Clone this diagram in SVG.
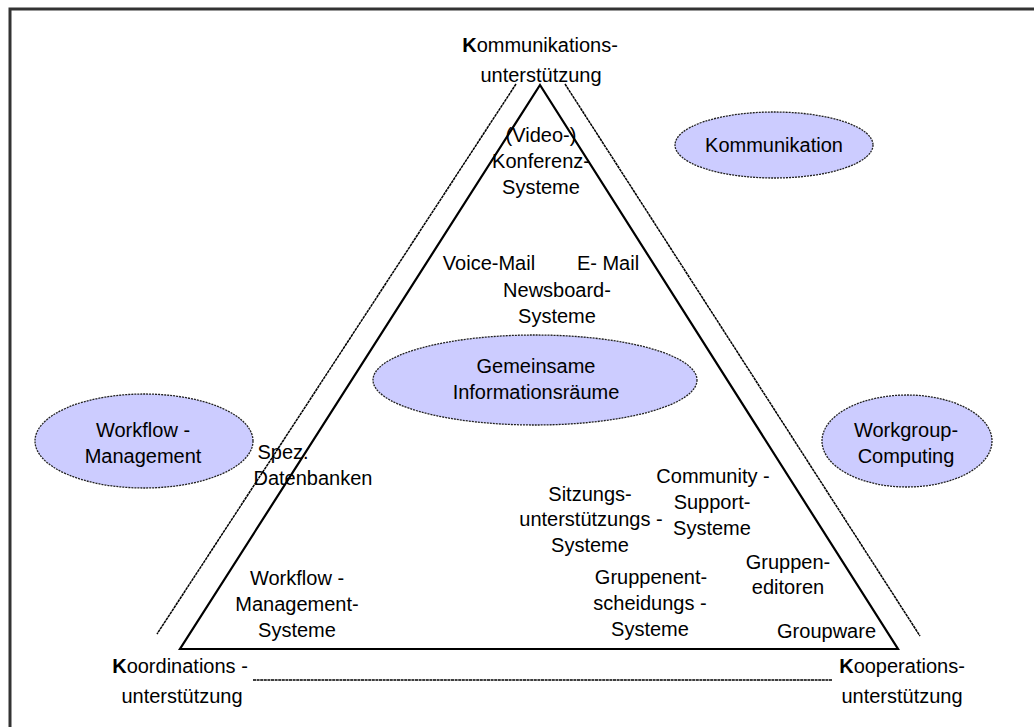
<svg xmlns="http://www.w3.org/2000/svg" width="1034" height="727" viewBox="0 0 1034 727">
  <style>
    text { font-family: "Liberation Sans", Arial, sans-serif; font-size: 20px; fill: #000; text-anchor: middle; }
    .bubble { fill: #CCCCFF; stroke: #222; stroke-width: 1.3; stroke-dasharray: 2 1; }
    .guide { fill: none; stroke: #000; stroke-width: 1.5; stroke-dasharray: 3 0.6; }
    .tri { fill: none; stroke: #000; stroke-width: 2.2; stroke-linejoin: miter; }
    .b { font-weight: bold; }
  </style>

  <rect width="1034" height="727" fill="#fff"/>
  <!-- frame -->
  <path d="M10,727 V9 H1034" fill="none" stroke="#333" stroke-width="3"/>

  <!-- connectors: triangle sides and guide lines -->
  <g id="connectors">
    <polygon class="tri" points="540,85 180,649 898,649"/>
    <line class="guide" x1="516" y1="84" x2="157" y2="634"/>
    <line class="guide" x1="565" y1="84" x2="920" y2="636"/>
    <line class="guide" x1="253" y1="680" x2="832" y2="680"/>
  </g>

  <!-- corner labels -->
  <g id="corner-communication">
    <text x="540" y="52"><tspan class="b">K</tspan>ommunikations-</text>
    <text x="541" y="82">unterstützung</text>
  </g>
  <g id="corner-coordination">
    <text x="180" y="673"><tspan class="b">K</tspan>oordinations -</text>
    <text x="182" y="703">unterstützung</text>
  </g>
  <g id="corner-cooperation">
    <text x="902" y="673"><tspan class="b">K</tspan>ooperations-</text>
    <text x="902" y="703">unterstützung</text>
  </g>

  <!-- category ellipses -->
  <g id="kommunikation">
    <ellipse class="bubble" cx="774" cy="145" rx="99" ry="33"/>
    <text x="774" y="152">Kommunikation</text>
  </g>
  <g id="informationsraeume">
    <ellipse class="bubble" cx="535" cy="380" rx="162" ry="45"/>
    <text x="536" y="373">Gemeinsame</text>
    <text x="536" y="399">Informationsräume</text>
  </g>
  <g id="workflow-management">
    <ellipse class="bubble" cx="144" cy="441" rx="109" ry="47"/>
    <text x="143" y="437">Workflow -</text>
    <text x="143" y="463">Management</text>
  </g>
  <g id="workgroup-computing">
    <ellipse class="bubble" cx="907" cy="441" rx="85" ry="46"/>
    <text x="906" y="437">Workgroup-</text>
    <text x="906" y="463">Computing</text>
  </g>

  <!-- system types inside the triangle -->
  <g id="konferenz">
    <text x="541" y="142">(Video-)</text>
    <text x="541" y="168">Konferenz-</text>
    <text x="541" y="194">Systeme</text>
  </g>
  <g id="voice-mail">
    <text x="489" y="270">Voice-Mail</text>
  </g>
  <g id="e-mail">
    <text x="608" y="270">E- Mail</text>
  </g>
  <g id="newsboard">
    <text x="557" y="297">Newsboard-</text>
    <text x="557" y="323">Systeme</text>
  </g>
  <g id="datenbanken">
    <text x="283" y="459">Spez.</text>
    <text x="313" y="485">Datenbanken</text>
  </g>
  <g id="community">
    <text x="713" y="483">Community -</text>
    <text x="712" y="509">Support-</text>
    <text x="712" y="535">Systeme</text>
  </g>
  <g id="sitzung">
    <text x="590" y="501">Sitzungs-</text>
    <text x="591" y="526">unterstützungs -</text>
    <text x="590" y="552">Systeme</text>
  </g>
  <g id="gruppeneditoren">
    <text x="788" y="569">Gruppen-</text>
    <text x="788" y="594">editoren</text>
  </g>
  <g id="gruppenentscheidung">
    <text x="651" y="584">Gruppenent-</text>
    <text x="650" y="610">scheidungs -</text>
    <text x="650" y="636">Systeme</text>
  </g>
  <g id="groupware">
    <text x="876" y="638" style="text-anchor:end">Groupware</text>
  </g>
  <g id="workflow-systeme">
    <text x="297" y="585">Workflow -</text>
    <text x="297" y="611">Management-</text>
    <text x="297" y="637">Systeme</text>
  </g>
</svg>
